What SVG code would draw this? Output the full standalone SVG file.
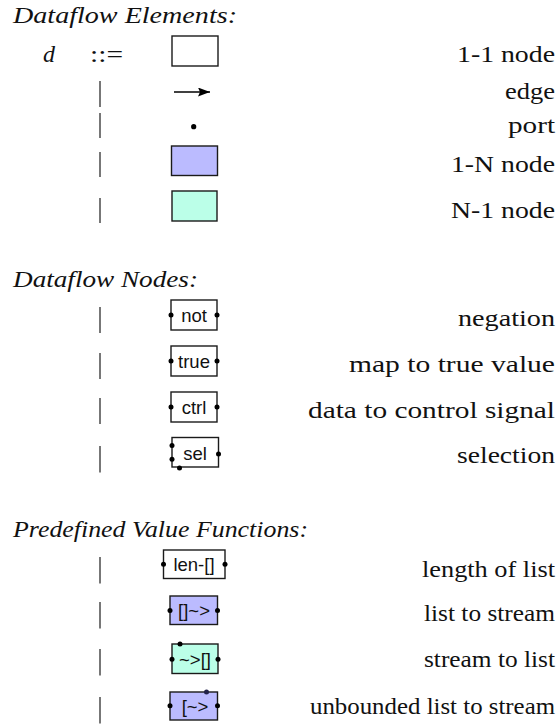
<svg xmlns="http://www.w3.org/2000/svg" width="559" height="726" viewBox="0 0 559 726">
<style>
.title{font-family:"Liberation Serif",serif;font-style:italic;font-size:24px;fill:#111}
.rm{font-family:"Liberation Serif",serif;font-size:24px;fill:#111}
.lbl{font-family:"Liberation Serif",serif;font-size:24px;fill:#111;text-anchor:end}
.bar{stroke:#555;stroke-width:1.6}
.box{stroke:#1a1a1a;stroke-width:1.4;fill:#fff}
.n1{fill:#bbbbff}
.n2{fill:#bbffe8}
.nt{font-family:"Liberation Sans",Arial,sans-serif;font-size:18.5px;fill:#111;text-anchor:middle}
.port{fill:#000}
</style>
<defs>
<marker id="ah" viewBox="0 0 12 9" refX="12" refY="4.5" markerWidth="12" markerHeight="9" markerUnits="userSpaceOnUse" orient="auto">
<path d="M0,0 L12,4.5 L0,9 L2,4.5 Z" fill="#000"/>
</marker>
</defs>
<rect width="559" height="726" fill="#fff"/>

<!-- Section 1 -->
<text class="title" x="13" y="23" textLength="224" lengthAdjust="spacingAndGlyphs">Dataflow Elements:</text>
<text class="title" x="43" y="62">d</text>
<text class="rm" x="90" y="62" textLength="33" lengthAdjust="spacingAndGlyphs">::=</text>
<g id="bars-1">
<line class="bar" x1="100" y1="81" x2="100" y2="107"/>
<line class="bar" x1="100" y1="113" x2="100" y2="138"/>
<line class="bar" x1="100" y1="152" x2="100" y2="177"/>
<line class="bar" x1="100" y1="198" x2="100" y2="223"/>
</g>

<g id="node-1-1"><rect class="box" x="172" y="36" width="46" height="30"/></g>
<g id="connectors"><line x1="174" y1="92" x2="210" y2="92" stroke="#000" stroke-width="1.5" marker-end="url(#ah)"/></g>
<g id="port-elem"><circle class="port" cx="193.7" cy="126.7" r="2.6"/></g>
<g id="node-1-N"><rect class="box n1" x="171.5" y="146" width="46" height="29.5"/></g>
<g id="node-N-1"><rect class="box n2" x="172" y="191" width="45" height="30"/></g>

<text class="lbl" x="555" y="62" textLength="98" lengthAdjust="spacingAndGlyphs">1-1 node</text>
<text class="lbl" x="555" y="99" textLength="50" lengthAdjust="spacingAndGlyphs">edge</text>
<text class="lbl" x="555" y="133" textLength="47" lengthAdjust="spacingAndGlyphs">port</text>
<text class="lbl" x="555" y="172" textLength="104" lengthAdjust="spacingAndGlyphs">1-N node</text>
<text class="lbl" x="555" y="218" textLength="104" lengthAdjust="spacingAndGlyphs">N-1 node</text>

<!-- Section 2 -->
<text class="title" x="13" y="287" textLength="185" lengthAdjust="spacingAndGlyphs">Dataflow Nodes:</text>
<g id="bars-2">
<line class="bar" x1="100" y1="307" x2="100" y2="333"/>
<line class="bar" x1="100" y1="353" x2="100" y2="379"/>
<line class="bar" x1="100" y1="398" x2="100" y2="424"/>
<line class="bar" x1="100" y1="446" x2="100" y2="472.5"/>
</g>

<g id="node-not">
<rect class="box" x="171" y="300" width="46" height="30"/>
<text class="nt" x="194" y="322">not</text>
<circle class="port" cx="171" cy="315" r="2.5"/><circle class="port" cx="217" cy="315" r="2.5"/>
</g>
<g id="node-true">
<rect class="box" x="171" y="346" width="46" height="30"/>
<text class="nt" x="194" y="368">true</text>
<circle class="port" cx="171" cy="361" r="2.5"/><circle class="port" cx="217" cy="361" r="2.5"/>
</g>
<g id="node-ctrl">
<rect class="box" x="171" y="392" width="46" height="30"/>
<text class="nt" x="194" y="414">ctrl</text>
<circle class="port" cx="171" cy="407" r="2.5"/><circle class="port" cx="217" cy="407" r="2.5"/>
</g>
<g id="node-sel">
<rect class="box" x="172" y="437.5" width="46.5" height="29.5"/>
<text class="nt" x="195" y="460">sel</text>
<circle class="port" cx="172" cy="445.5" r="2.5"/><circle class="port" cx="172" cy="459.3" r="2.5"/>
<circle class="port" cx="179.5" cy="468" r="2.5"/><circle class="port" cx="218.5" cy="454" r="2.5"/>
</g>

<text class="lbl" x="555" y="326" textLength="97" lengthAdjust="spacingAndGlyphs">negation</text>
<text class="lbl" x="555" y="372" textLength="206" lengthAdjust="spacingAndGlyphs">map to true value</text>
<text class="lbl" x="555" y="418" textLength="247" lengthAdjust="spacingAndGlyphs">data to control signal</text>
<text class="lbl" x="555" y="463" textLength="98" lengthAdjust="spacingAndGlyphs">selection</text>

<!-- Section 3 -->
<text class="title" x="13" y="537" textLength="295" lengthAdjust="spacingAndGlyphs">Predefined Value Functions:</text>
<g id="bars-3">
<line class="bar" x1="100" y1="557" x2="100" y2="583.5"/>
<line class="bar" x1="100" y1="602" x2="100" y2="628.5"/>
<line class="bar" x1="100" y1="649" x2="100" y2="675.5"/>
<line class="bar" x1="100" y1="697" x2="100" y2="723.5"/>
</g>

<g id="node-len">
<rect class="box" x="163.5" y="550" width="61.5" height="28.5"/>
<text class="nt" x="194" y="571">len-[]</text>
<circle class="port" cx="163.5" cy="564.3" r="2.5"/><circle class="port" cx="225" cy="564.3" r="2.5"/>
</g>
<g id="node-list-to-stream">
<rect class="box n1" x="170" y="596" width="47.5" height="28.5"/>
<text class="nt" x="194" y="617">[]~&gt;</text>
<circle class="port" cx="170" cy="610.5" r="2.5"/><circle class="port" cx="217.5" cy="610.5" r="2.5"/>
</g>
<g id="node-stream-to-list">
<rect class="box n2" x="172" y="644" width="46" height="29.5"/>
<text class="nt" x="195" y="666">~&gt;[]</text>
<circle class="port" cx="180" cy="644" r="2.5"/>
<circle class="port" cx="172" cy="659.3" r="2.5"/><circle class="port" cx="218" cy="659.3" r="2.5"/>
</g>
<g id="node-unbounded">
<rect class="box n1" x="170" y="692" width="47.5" height="28"/>
<text class="nt" x="195" y="713">[~&gt;</text>
<circle cx="206.5" cy="692" r="2.5" fill="#22224a"/>
<circle class="port" cx="170" cy="705.8" r="2.5"/><circle class="port" cx="217.5" cy="705.8" r="2.5"/>
</g>

<text class="lbl" x="555" y="577" textLength="133" lengthAdjust="spacingAndGlyphs">length of list</text>
<text class="lbl" x="555" y="621" textLength="131" lengthAdjust="spacingAndGlyphs">list to stream</text>
<text class="lbl" x="555" y="667" textLength="131" lengthAdjust="spacingAndGlyphs">stream to list</text>
<text class="lbl" x="555" y="714" textLength="245" lengthAdjust="spacingAndGlyphs">unbounded list to stream</text>
</svg>
